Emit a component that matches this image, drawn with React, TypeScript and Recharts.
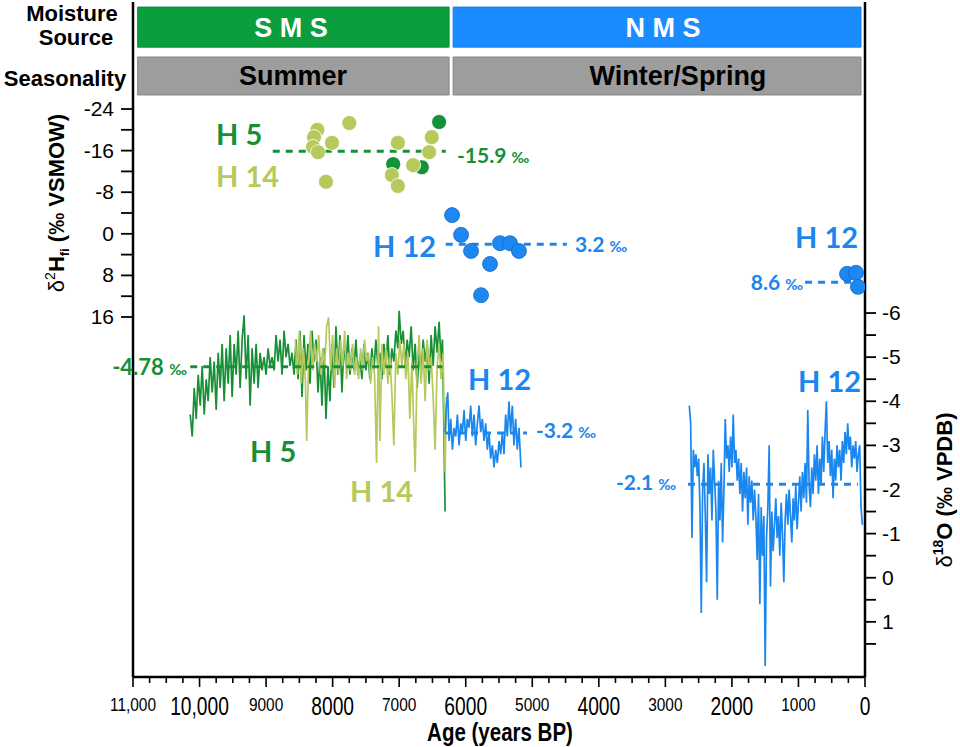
import React from 'react';
import {
  ComposedChart,
  Line,
  Scatter,
  XAxis,
  YAxis,
  ReferenceLine,
  ReferenceArea,
} from 'recharts';

// δ18O speleothem records (age in years BP, value in ‰ VPDB)
const h5O: [number, number][] = [
  [10140, -3.7], [10110, -3.2], [10080, -4.3], [10050, -3.6], [10020, -4.6], [9990, -3.9], [9960, -4.8], [9930, -3.7],
  [9900, -4.5], [9870, -4.0], [9840, -5.0], [9810, -4.2], [9780, -4.9], [9750, -3.8], [9720, -5.1], [9690, -4.3],
  [9660, -5.3], [9630, -4.0], [9600, -5.2], [9570, -4.4], [9540, -5.5], [9510, -4.1], [9480, -5.3], [9450, -4.6],
  [9420, -5.6], [9390, -4.3], [9360, -5.4], [9330, -5.95], [9300, -4.5], [9270, -5.5], [9240, -3.9], [9210, -5.2],
  [9180, -4.4], [9150, -5.3], [9120, -4.3], [9090, -5.1], [9060, -4.7], [9030, -5.0], [9000, -4.6], [8970, -5.2],
  [8940, -4.8], [8910, -5.0], [8880, -4.7], [8850, -5.5], [8820, -4.9], [8790, -5.4], [8760, -4.6], [8730, -5.6],
  [8700, -5.0], [8670, -5.3], [8640, -4.8], [8610, -5.1], [8580, -4.6], [8550, -5.4], [8520, -4.5], [8490, -5.6],
  [8460, -4.1], [8430, -5.5], [8400, -4.7], [8370, -5.3], [8340, -4.4], [8310, -5.6], [8280, -4.9], [8250, -5.4],
  [8220, -4.2], [8190, -5.0], [8160, -3.9], [8130, -5.2], [8100, -3.6], [8070, -4.8], [8040, -4.0], [8010, -5.3],
  [7980, -4.3], [7950, -5.7], [7920, -4.6], [7890, -5.5], [7860, -4.2], [7830, -5.3], [7800, -4.8], [7770, -5.5],
  [7740, -4.6], [7710, -5.2], [7680, -4.7], [7650, -5.4], [7620, -4.6], [7590, -5.0], [7560, -4.5], [7530, -5.3],
  [7500, -4.7], [7470, -5.1], [7440, -4.5], [7410, -5.2], [7380, -4.7], [7350, -5.4], [7320, -4.8], [7290, -5.1],
  [7260, -4.5], [7230, -5.3], [7200, -4.8], [7170, -5.5], [7140, -4.6], [7110, -5.2], [7080, -4.9], [7050, -5.6],
  [7020, -5.2], [7000, -6.05], [6970, -5.3], [6940, -5.6], [6910, -4.8], [6880, -5.4], [6850, -5.0], [6820, -5.7],
  [6790, -4.7], [6760, -5.3], [6730, -4.3], [6700, -5.1], [6670, -4.6], [6640, -5.4], [6610, -4.9], [6580, -5.3],
  [6550, -4.4], [6520, -5.5], [6490, -4.8], [6460, -5.7], [6430, -5.1], [6400, -5.8], [6370, -4.9], [6350, -5.4],
  [6330, -3.5], [6310, -1.5],
];

const h14O: [number, number][] = [
  [8560, -5.4], [8530, -4.6], [8500, -5.6], [8470, -4.4], [8440, -5.2], [8410, -4.5], [8390, -3.1], [8360, -5.0],
  [8330, -5.6], [8300, -4.7], [8270, -5.3], [8240, -4.9], [8210, -5.5], [8180, -4.6], [8150, -5.2], [8120, -4.8],
  [8090, -5.7], [8060, -5.9], [8030, -4.7], [8000, -5.5], [7970, -4.3], [7940, -5.2], [7910, -4.6], [7880, -5.4],
  [7850, -4.8], [7820, -5.6], [7790, -4.5], [7760, -5.1], [7730, -4.7], [7700, -5.3], [7670, -4.6], [7640, -5.0],
  [7610, -4.5], [7580, -5.2], [7550, -4.7], [7520, -5.4], [7490, -4.9], [7460, -5.1], [7430, -4.4], [7400, -5.0],
  [7370, -4.6], [7340, -2.6], [7310, -5.7], [7290, -3.1], [7260, -5.3], [7230, -4.6], [7200, -5.2], [7170, -4.4],
  [7140, -5.0], [7110, -4.2], [7080, -3.0], [7050, -5.1], [7020, -4.6], [6990, -5.4], [6960, -4.8], [6930, -5.3],
  [6900, -4.5], [6870, -5.1], [6840, -3.6], [6810, -4.9], [6780, -3.4], [6760, -2.4], [6730, -4.8], [6700, -5.5],
  [6670, -4.4], [6640, -5.2], [6610, -4.0], [6580, -5.4], [6550, -4.7], [6520, -5.0], [6490, -4.1], [6460, -2.9],
  [6430, -4.8], [6400, -5.3], [6370, -4.5], [6340, -5.1], [6310, -2.4], [6290, -4.1],
];

const h12OMid: [number, number][] = [
  [6310, -3.3], [6290, -3.9], [6270, -4.2], [6250, -3.1], [6225, -3.6], [6200, -2.9], [6175, -3.4], [6150, -3.2],
  [6125, -3.7], [6100, -3.0], [6075, -3.5], [6050, -3.3], [6025, -3.8], [6000, -3.1], [5975, -3.6], [5950, -3.4],
  [5925, -3.9], [5900, -3.2], [5875, -3.7], [5850, -3.0], [5825, -3.5], [5800, -3.9], [5775, -3.3], [5750, -3.6],
  [5725, -3.1], [5700, -3.5], [5675, -2.9], [5650, -3.3], [5625, -2.7], [5600, -3.0], [5575, -2.5], [5550, -2.9],
  [5525, -2.6], [5500, -3.1], [5475, -2.8], [5450, -3.3], [5425, -2.8], [5400, -3.7], [5375, -3.2], [5350, -4.0],
  [5325, -3.3], [5300, -3.9], [5275, -3.0], [5250, -3.6], [5225, -2.9], [5200, -3.4], [5170, -2.5],
];

const h12OLate: [number, number][] = [
  [2640, -3.9], [2620, -3.5], [2600, -0.9], [2580, -2.9], [2560, -2.5], [2540, -2.8], [2520, -2.3], [2500, -2.7],
  [2480, -1.6], [2460, 0.8], [2440, -2.0], [2420, -2.6], [2400, -1.4], [2380, 0.1], [2360, -2.8], [2340, -1.9],
  [2320, -2.5], [2300, -1.3], [2280, -2.9], [2260, -2.2], [2240, -1.5], [2220, 0.5], [2200, -2.2], [2180, -1.3],
  [2160, -2.6], [2140, -0.8], [2120, -2.0], [2100, -3.6], [2080, -2.7], [2060, -3.0], [2040, -2.4], [2020, -3.2],
  [2000, -2.5], [1980, -3.7], [1960, -2.6], [1940, -2.9], [1920, -2.2], [1900, -2.7], [1880, -1.9], [1860, -2.6],
  [1840, -1.5], [1820, -2.4], [1800, -1.8], [1780, -2.5], [1760, -1.2], [1740, -2.3], [1720, -1.7], [1700, -2.2],
  [1680, -1.3], [1660, -2.0], [1640, -1.4], [1620, -0.4], [1600, -1.9], [1580, 0.6], [1560, -1.6], [1540, -0.5],
  [1520, -1.4], [1500, 2.0], [1480, -0.9], [1460, -1.6], [1440, -3.0], [1420, 0.2], [1400, -1.5], [1380, -0.6],
  [1360, -1.2], [1340, -1.8], [1320, -0.9], [1300, -1.4], [1280, -0.5], [1260, -1.7], [1240, -1.0], [1220, 0.1],
  [1200, -1.3], [1180, -1.9], [1160, -1.2], [1140, -2.0], [1120, -1.4], [1100, -0.8], [1080, -1.8], [1060, -1.3],
  [1040, -2.1], [1020, -1.1], [1000, -1.7], [980, -2.3], [960, -1.5], [940, -2.4], [920, -1.8], [900, -2.6],
  [880, -1.7], [860, -3.8], [840, -2.1], [820, -1.6], [800, -2.5], [780, -1.9], [760, -2.8], [740, -2.2],
  [720, -3.0], [700, -1.9], [680, -2.7], [660, -2.1], [640, -3.2], [620, -2.4], [600, -3.3], [580, -4.0],
  [560, -2.6], [540, -3.1], [520, -2.3], [500, -2.9], [480, -1.8], [460, -2.7], [440, -2.2], [420, -3.0],
  [400, -2.5], [380, -2.9], [360, -2.2], [340, -3.1], [320, -2.6], [300, -3.3], [280, -2.8], [260, -3.5],
  [240, -2.9], [220, -3.2], [200, -2.5], [180, -3.0], [160, -2.7], [140, -3.1], [120, -2.4], [100, -2.8],
  [80, -3.0], [60, -1.6], [40, -1.2],
];

// δ2H fluid inclusion values (‰ VSMOW)
const h5H: [number, number][] = [[6400, -21.5], [7090, -13.4], [6660, -12.8]];
const h14H: [number, number][] = [
  [8230, -20.0], [8280, -18.6], [8295, -16.7], [8220, -15.7], [8010, -17.5], [7750, -21.3], [8100, -10.0],
  [7020, -17.5], [6790, -13.2], [7110, -11.3], [7020, -9.2], [6510, -18.6], [6550, -15.7],
];
const h12H: [number, number][] = [
  [6205, -3.6], [6070, 0.2], [5920, 3.3], [5770, 11.8], [5635, 5.8], [5485, 1.8], [5335, 1.8], [5200, 3.3],
  [270, 7.7], [135, 7.5], [105, 10.2],
];

// means drawn as dashed segments: [fromAge, toAge, value]
const h5h14HMean: [number, number, number] = [8900, 6300, -15.9];
const h12HMidMean: [number, number, number] = [6300, 4480, 2.0];
const h12HLateMean: [number, number, number] = [900, 195, 9.3];
const h5h14OMean: [number, number, number] = [10140, 6350, -4.78];
const h12OMidMean: [number, number, number] = [6310, 5080, -3.28];
const h12OLateMean: [number, number, number] = [2660, 105, -2.12];

// band extents (ages)
const smsBand = [10930, 6250];
const nmsBand = [6190, 60];

const xTicks = [
  0, 250, 500, 750, 1000, 1250, 1500, 1750, 2000, 2250, 2500, 2750, 3000, 3250, 3500, 3750, 4000, 4250, 4500,
  4750, 5000, 5250, 5500, 5750, 6000, 6250, 6500, 6750, 7000, 7250, 7500, 7750, 8000, 8250, 8500, 8750, 9000,
  9250, 9500, 9750, 10000, 10250, 10500, 10750, 11000,
];
const xLabelValues = [0, 1000, 2000, 3000, 4000, 5000, 6000, 7000, 8000, 9000, 10000, 11000];
const xLabelTexts = ['0', '1000', '2000', '3000', '4000', '5000', '6000', '7000', '8000', '9000', '10,000', '11,000'];
const xBig = [0, 2000, 4000, 6000, 8000, 10000];
const leftTicks = [-24, -20, -16, -12, -8, -4, 0, 4, 8, 12, 16];
const leftLabels = [-24, -16, -8, 0, 8, 16];
const rightTicks = [-6, -5.5, -5, -4.5, -4, -3.5, -3, -2.5, -2, -1.5, -1, -0.5, 0, 0.5, 1, 1.5];
const rightLabels = [-6, -5, -4, -3, -2, -1, 0, 1];

const DK = '#168f35';
const LT = '#b6c95c';
const BL = '#1b86ee';
const ARIAL = '"Liberation Sans", Arial, sans-serif';
const CAL = 'Lato, "Open Sans", sans-serif';

const toO = (a: [number, number][]) => a.map(([age, v]) => ({ age, d18O: v }));
const toH = (a: [number, number][]) => a.map(([age, v]) => ({ age, d2H: v }));

function XTick(props: any) {
  const { x, y, payload } = props;
  const v = payload.value;
  const i = xLabelValues.indexOf(v);
  const big = xBig.includes(v);
  return (
    <g>
      <line x1={x} x2={x} y1={y} y2={y + (i >= 0 ? 10 : 6)} stroke="#000" strokeWidth={1.6} />
      {i >= 0 && (
        <text
          transform={`translate(${x},${y + (big ? 38 : 34)}) scale(${big ? 0.74 : 0.86},1)`}
          textAnchor="middle"
          fontSize={big ? 26 : 18}
          fontFamily={ARIAL}
          fill="#000"
        >
          {xLabelTexts[i]}
        </text>
      )}
    </g>
  );
}

function LeftTick(props: any) {
  const { x, y, payload } = props;
  const v = payload.value;
  return (
    <g>
      <line x1={x - 12} x2={x} y1={y} y2={y} stroke="#000" strokeWidth={1.8} />
      {leftLabels.includes(v) && (
        <text x={x - 19} y={y + 7} textAnchor="end" fontSize={21} fontFamily={ARIAL} fill="#000">
          {String(v)}
        </text>
      )}
    </g>
  );
}

function RightTick(props: any) {
  const { x, y, payload } = props;
  const v = payload.value;
  return (
    <g>
      <line x1={x} x2={x + 11} y1={y} y2={y} stroke="#000" strokeWidth={1.8} />
      {rightLabels.includes(v) && (
        <text x={x + 17} y={y + 7} textAnchor="start" fontSize={21} fontFamily={ARIAL} fill="#000">
          {String(v)}
        </text>
      )}
    </g>
  );
}

const dot = (fill: string, stroke: string) => (p: any) => (
  <circle cx={p.cx} cy={p.cy} r={7.5} fill={fill} stroke={stroke} strokeWidth={0.8} />
);

const axisLine = { stroke: '#000', strokeWidth: 2.5 };

function meanLine(m: [number, number, number], axis: string, color: string, key: string) {
  return (
    <ReferenceLine
      key={key}
      yAxisId={axis}
      segment={[{ x: m[0], y: m[2] }, { x: m[1], y: m[2] }]}
      stroke={color}
      strokeWidth={3}
      strokeDasharray="7 6"
    />
  );
}

function Note({ x, y, color, size, children, anchor = 'start' }: any) {
  return (
    <text x={x} y={y} fill={color} fontSize={size} fontWeight={700} fontFamily={CAL} textAnchor={anchor}>
      {children}
    </text>
  );
}

const permil = (s: number) => <tspan fontSize={s}>‰</tspan>;

export default function App() {
  return (
    <div style={{ position: 'absolute', left: 0, top: 0, width: 960, height: 747, background: '#fff' }}>
      <ComposedChart width={960} height={747} margin={{ top: 2, right: 0, bottom: 0, left: 0 }}>
        <XAxis
          dataKey="age"
          type="number"
          domain={[0, 11000]}
          reversed
          allowDataOverflow
          ticks={xTicks}
          interval={0}
          height={70}
          tickSize={0}
          tickMargin={0}
          tickLine={false}
          axisLine={axisLine}
          tick={(p: any) => <XTick {...p} />}
        />
        <XAxis
          xAxisId="top"
          orientation="top"
          type="number"
          domain={[0, 11000]}
          reversed
          height={0}
          tick={false}
          tickLine={false}
          axisLine={axisLine}
        />
        <YAxis
          yAxisId="left"
          type="number"
          domain={[-44.58, 85.23]}
          reversed
          allowDataOverflow
          ticks={leftTicks}
          interval={0}
          width={133}
          tickSize={0}
          tickMargin={0}
          tickLine={false}
          axisLine={axisLine}
          tick={(p: any) => <LeftTick {...p} />}
        />
        <YAxis
          yAxisId="right"
          orientation="right"
          type="number"
          domain={[-13.05, 2.25]}
          reversed
          allowDataOverflow
          ticks={rightTicks}
          interval={0}
          width={95}
          tickSize={0}
          tickMargin={0}
          tickLine={false}
          axisLine={axisLine}
          tick={(p: any) => <RightTick {...p} />}
        />

        <ReferenceArea yAxisId="left" x1={smsBand[0]} x2={smsBand[1]} y1={-43.6} y2={-35.9} fill="#0a9e3c" fillOpacity={1} stroke="#088a33" />
        <ReferenceArea yAxisId="left" x1={nmsBand[0]} x2={nmsBand[1]} y1={-43.6} y2={-35.9} fill="#1a8cff" fillOpacity={1} stroke="#1a7ee0" />
        <ReferenceArea yAxisId="left" x1={smsBand[0]} x2={smsBand[1]} y1={-34.0} y2={-26.7} fill="#9d9d9d" fillOpacity={1} stroke="#858585" />
        <ReferenceArea yAxisId="left" x1={nmsBand[0]} x2={nmsBand[1]} y1={-34.0} y2={-26.7} fill="#9d9d9d" fillOpacity={1} stroke="#858585" />

        <Line yAxisId="right" data={toO(h5O)} dataKey="d18O" stroke={DK} strokeWidth={1.7} dot={false} isAnimationActive={false} />
        <Line yAxisId="right" data={toO(h14O)} dataKey="d18O" stroke={LT} strokeWidth={1.7} dot={false} isAnimationActive={false} />
        <Line yAxisId="right" data={toO(h12OMid)} dataKey="d18O" stroke={BL} strokeWidth={1.7} dot={false} isAnimationActive={false} />
        <Line yAxisId="right" data={toO(h12OLate)} dataKey="d18O" stroke={BL} strokeWidth={1.7} dot={false} isAnimationActive={false} />

        {meanLine(h5h14HMean, 'left', DK, 'm1')}
        {meanLine(h12HMidMean, 'left', BL, 'm2')}
        {meanLine(h12HLateMean, 'left', BL, 'm3')}
        {meanLine(h5h14OMean, 'right', DK, 'm4')}
        {meanLine(h12OMidMean, 'right', BL, 'm5')}
        {meanLine(h12OLateMean, 'right', BL, 'm6')}

        <Scatter yAxisId="left" data={toH(h5H)} dataKey="d2H" shape={dot('#13923a', '#ffffff')} isAnimationActive={false} />
        <Scatter yAxisId="left" data={toH(h14H)} dataKey="d2H" shape={dot(LT, '#ffffff')} isAnimationActive={false} />
        <Scatter yAxisId="left" data={toH(h12H)} dataKey="d2H" shape={dot('#1e88f2', '#1566c4')} isAnimationActive={false} />
      </ComposedChart>

      <svg width={960} height={747} style={{ position: 'absolute', left: 0, top: 0, pointerEvents: 'none' }}>
        <g fontFamily={ARIAL} fontWeight={700} fill="#000" fontSize={22} textAnchor="middle">
          <text x={72} y={21}>Moisture</text>
          <text x={76} y={45}>Source</text>
          <text x={65} y={86}>Seasonality</text>
        </g>
        <g fontFamily={ARIAL} fontWeight={700} fontSize={27} textAnchor="middle">
          <text x={291} y={37} fill="#fff">S M S</text>
          <text x={663} y={37} fill="#fff">N M S</text>
          <text x={293} y={85} fill="#000">Summer</text>
          <text x={678} y={85} fill="#000">Winter/Spring</text>
        </g>

        <text transform="translate(64,203) rotate(-90)" textAnchor="middle" fontFamily={ARIAL} fontSize={22} fill="#000">
          <tspan>δ</tspan>
          <tspan fontSize={14} dy={-9}>2</tspan>
          <tspan fontWeight={700} dy={9}>H</tspan>
          <tspan fontWeight={700} fontSize={13} dy={5}>fi</tspan>
          <tspan fontWeight={700} dy={-5}> (‰ VSMOW)</tspan>
        </text>
        <text transform="translate(952,490) rotate(-90)" textAnchor="middle" fontFamily={ARIAL} fontSize={22} fill="#000">
          <tspan>δ</tspan>
          <tspan fontSize={14} fontWeight={700} dy={-9}>18</tspan>
          <tspan fontWeight={700} dy={9}>O (‰ VPDB)</tspan>
        </text>
        <text transform="translate(500,741) scale(0.82,1)" textAnchor="middle" fontFamily={ARIAL} fontWeight={700} fontSize={25} fill="#000">
          Age (years BP)
        </text>

        <Note x={216} y={145} color={DK} size={29}>H 5</Note>
        <Note x={216} y={187} color={LT} size={29}>H 14</Note>
        <Note x={373} y={257} color={BL} size={29}>H 12</Note>
        <Note x={795} y={248} color={BL} size={29}>H 12</Note>
        <Note x={468} y={390} color={BL} size={29}>H 12</Note>
        <Note x={798} y={392} color={BL} size={29}>H 12</Note>
        <Note x={250} y={462} color={DK} size={29}>H 5</Note>
        <Note x={350} y={502} color={LT} size={29}>H 14</Note>

        <Note x={457} y={163} color={DK} size={21}>-15.9 {permil(15)}</Note>
        <Note x={575} y={252} color={BL} size={21}>3.2 {permil(15)}</Note>
        <Note x={803} y={290} color={BL} size={21} anchor="end">8.6 {permil(15)}</Note>
        <Note x={187} y={375} color={DK} size={22} anchor="end">-4.78 {permil(15)}</Note>
        <Note x={536} y={438} color={BL} size={21}>-3.2 {permil(15)}</Note>
        <Note x={676} y={490} color={BL} size={21} anchor="end">-2.1 {permil(15)}</Note>
      </svg>
    </div>
  );
}
